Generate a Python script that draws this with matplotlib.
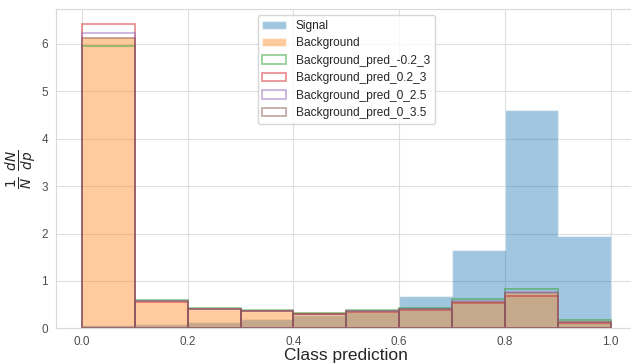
import numpy as np
import matplotlib
matplotlib.use("Agg")
import matplotlib.pyplot as plt
import seaborn as sns

# bin edges of the class prediction histogram
edges = np.linspace(0.0, 1.0, 11)
centers = (edges[:-1] + edges[1:]) / 2

# normalised bin heights
signal = [0.07, 0.10, 0.14, 0.19, 0.28, 0.39, 0.68, 1.65, 4.60, 1.95]
background = [6.15, 0.57, 0.41, 0.37, 0.35, 0.36, 0.40, 0.57, 0.74, 0.15]
pred_m02_3 = [5.96, 0.59, 0.43, 0.38, 0.32, 0.38, 0.42, 0.61, 0.82, 0.18]
pred_02_3 = [6.41, 0.56, 0.40, 0.36, 0.30, 0.35, 0.38, 0.53, 0.69, 0.11]
pred_0_25 = [6.23, 0.57, 0.41, 0.37, 0.31, 0.37, 0.40, 0.57, 0.77, 0.14]
pred_0_35 = [6.13, 0.57, 0.41, 0.37, 0.31, 0.36, 0.40, 0.56, 0.74, 0.14]

preds = [("Background_pred_-0.2_3", pred_m02_3, "tab:green"),
         ("Background_pred_0.2_3", pred_02_3, "tab:red"),
         ("Background_pred_0_2.5", pred_0_25, "tab:purple"),
         ("Background_pred_0_3.5", pred_0_35, "tab:brown")]

sns.set_style("whitegrid", {"grid.color": ".87", "axes.edgecolor": ".85"})
plt.rcParams['font.family'] = ['Liberation Sans', 'DejaVu Sans']

fig = plt.figure(figsize=(6.31, 3.63), dpi=100)
ax = fig.add_axes([55.6/631, (363-328.3)/363, (637-55.6)/631, (328.3-9.3)/363])

ax.hist(centers, bins=edges, weights=signal, histtype='stepfilled',
        color='tab:blue', alpha=0.42, label='Signal')
ax.hist(centers, bins=edges, weights=background, histtype='stepfilled',
        color='tab:orange', alpha=0.4, label='Background')
for name, vals, col in preds:
    ax.hist(centers, bins=edges, weights=vals, histtype='bar', fill=False,
            edgecolor=col, alpha=0.5, lw=1.3, label=name)

ax.set_xticks([0.0, 0.2, 0.4, 0.6, 0.8, 1.0])
ax.tick_params(labelsize=8.5, pad=2, labelcolor='.3')
ax.set_xlabel("Class prediction", fontsize=12.5, labelpad=0)
ax.set_ylabel(r"$\frac{1}{N}\ \frac{dN}{dp}$", fontsize=14, labelpad=2)
ax.legend(loc='upper center', fontsize=8.6, labelspacing=0.45)

fig.savefig("out.png", dpi=100)
